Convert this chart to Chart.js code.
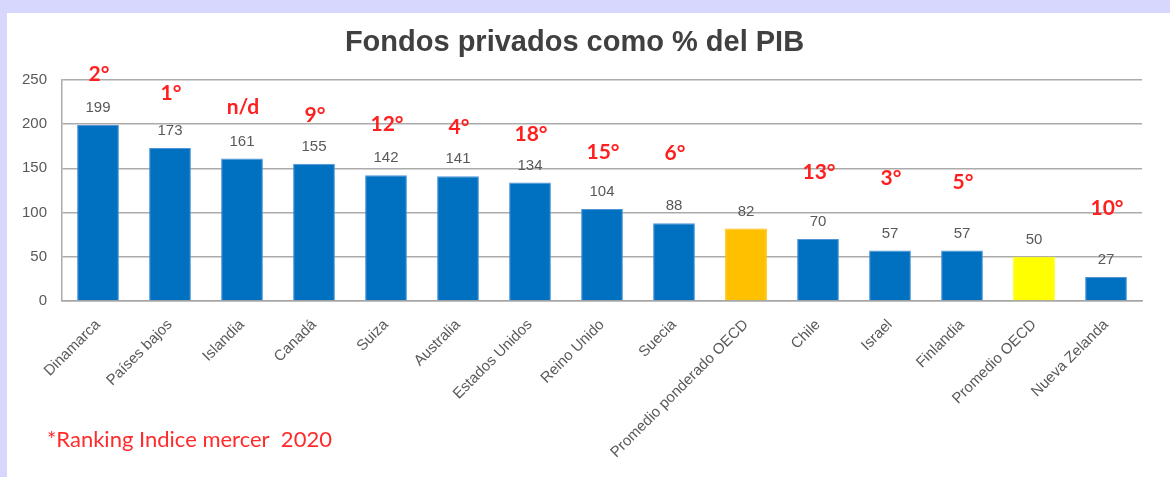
<!DOCTYPE html>
<html>
<head>
<meta charset="utf-8">
<script src="https://cdn.jsdelivr.net/npm/chart.js@4"></script>
<style>
    html, body { margin: 0; padding: 0; background: #d7d7fd; }
    #frame { position: absolute; left: 7px; top: 13px; width: 1163px; height: 464px; background: #fff; }
    canvas { display: block; }
</style>
</head>
<body>
<div id="frame"><canvas id="fondosChart" width="1163" height="464"></canvas></div>
<script>
const categories = ['Dinamarca', 'Países bajos', 'Islandia', 'Canadá', 'Suiza', 'Australia', 'Estados Unidos',
    'Reino Unido', 'Suecia', 'Promedio ponderado OECD', 'Chile', 'Israel', 'Finlandia', 'Promedio OECD', 'Nueva Zelanda'];
const values = [199, 173, 161, 155, 142, 141, 134, 104, 88, 82, 70, 57, 57, 50, 27];
const rankings = ['2°', '1°', 'n/d', '9°', '12°', '4°', '18°', '15°', '6°', '', '13°', '3°', '5°', '', '10°'];
const yMax = 250;
const yStep = 50;
const footnote = '*Ranking Indice mercer  2020';

// how far above the bar top each red ranking sits (px)
const rankOffsets = [51, 55, 51, 49, 51, 49, 48, 57, 70, 0, 67, 72, 68, 0, 69];

const highlight = {
    'Promedio ponderado OECD': '#FFC000',
    'Promedio OECD': '#FFFF00'
};
const barColors = categories.map(c => highlight[c] || '#0070C0');
const barBorders = categories.map(c => highlight[c] ? highlight[c] : '#4f93d8');

const SANS = 'Arial, "Liberation Sans", sans-serif';

const labelsPlugin = {
    id: 'labels',
    afterDatasetsDraw(chart) {
        const ctx = chart.ctx;
        const meta = chart.getDatasetMeta(0);
        ctx.save();
        ctx.textAlign = 'center';
        ctx.textBaseline = 'middle';
        meta.data.forEach((bar, i) => {
            ctx.fillStyle = '#595959';
            ctx.font = '15px ' + SANS;
            ctx.fillText(values[i], bar.x, bar.y - 17);
            if (rankings[i]) {
                ctx.fillStyle = '#ff1f1f';
                ctx.font = 'bold 21px Lato, "Open Sans", sans-serif';
                ctx.fillText(rankings[i], bar.x + 1, bar.y - rankOffsets[i]);
            }
        });
        ctx.fillStyle = '#ff2b2b';
        ctx.font = '22px Lato, "Open Sans", sans-serif';
        ctx.textAlign = 'left';
        ctx.fillText(footnote, 40, 427);
        ctx.restore();
    }
};

new Chart(document.getElementById('fondosChart'), {
    type: 'bar',
    data: {
        labels: categories,
        datasets: [{
            data: values,
            backgroundColor: barColors,
            borderColor: barBorders,
            borderWidth: 1,
            barPercentage: 0.58,
            categoryPercentage: 1
        }]
    },
    options: {
        responsive: false,
        animation: false,
        layout: { padding: { right: 28, left: 0, top: 0, bottom: 0 } },
        plugins: {
            legend: { display: false },
            tooltip: { enabled: false },
            title: {
                display: true,
                text: 'Fondos privados como % del PIB',
                color: '#404040',
                font: { family: SANS, size: 29, weight: 'bold' },
                padding: { top: 13, bottom: 19 }
            }
        },
        scales: {
            x: {
                grid: { display: false, drawTicks: false },
                border: { display: true, color: '#a6a6a6', width: 1.5 },
                ticks: {
                    color: '#595959',
                    font: { family: SANS, size: 15 },
                    minRotation: 45,
                    maxRotation: 45,
                    autoSkip: false,
                    padding: 15
                },
                afterFit: scale => { scale.height = 176; }
            },
            y: {
                min: 0,
                max: yMax,
                grid: { color: '#ababab', lineWidth: 1.5, drawTicks: false },
                border: { display: true, color: '#ababab', width: 1.5 },
                ticks: {
                    stepSize: yStep,
                    color: '#595959',
                    font: { family: SANS, size: 15 },
                    padding: 15
                },
                afterFit: scale => { scale.width = 55; }
            }
        }
    },
    plugins: [labelsPlugin]
});
</script>
</body>
</html>
